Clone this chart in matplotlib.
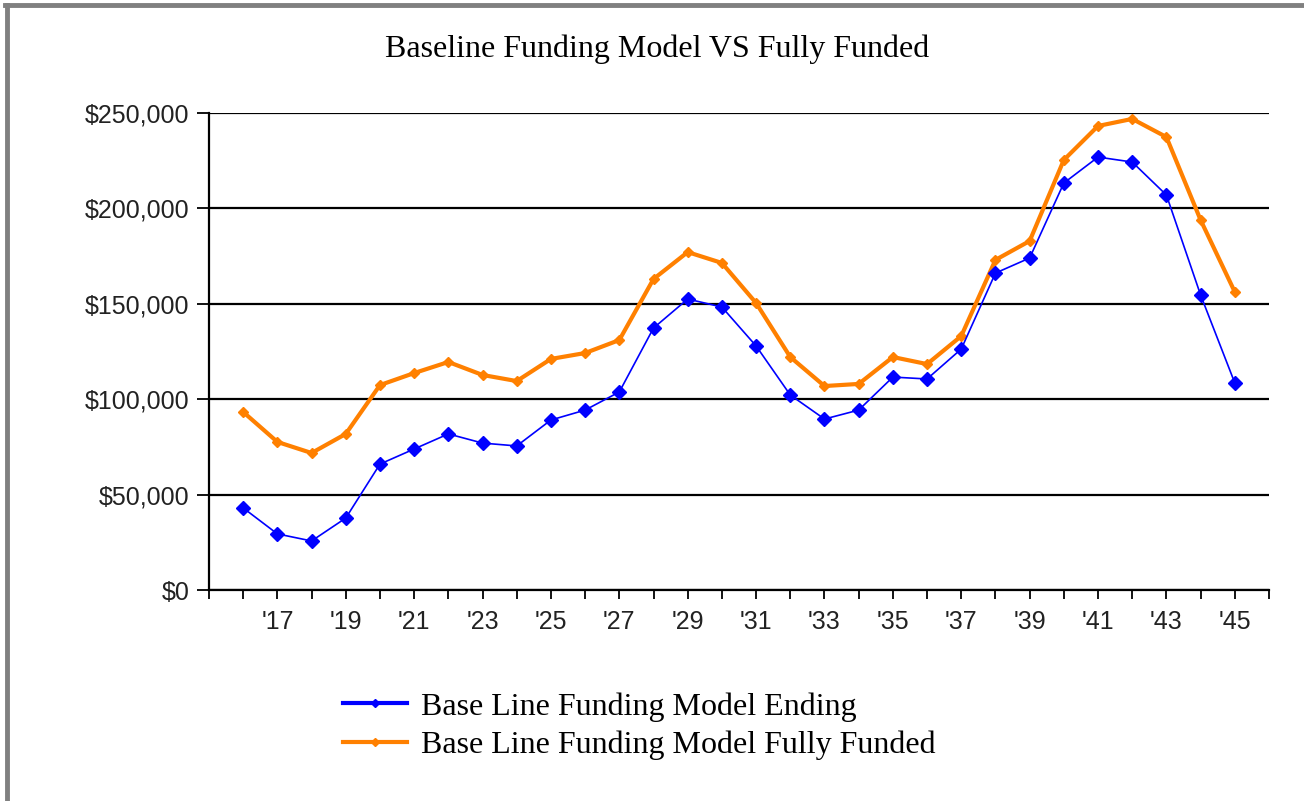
import matplotlib
matplotlib.use("Agg")
import matplotlib.pyplot as plt
from matplotlib.lines import Line2D
from matplotlib.ticker import FuncFormatter

# data (years 2016..2045)
years = list(range(2016, 2046))
ending = [43000, 29400, 25700, 37700, 66000, 73900, 81800, 77000, 75500, 89100,
          94300, 103800, 137300, 152500, 148300, 127900, 102200, 89600, 94300, 111600,
          110600, 126300, 166100, 174000, 213300, 226900, 224300, 207000, 154600, 108500]
fully_funded = [93300, 77600, 71800, 81800, 107400, 113700, 119500, 112700, 109500, 121100,
                124200, 131000, 163000, 177100, 171400, 150400, 122100, 106900, 108000, 122100,
                118400, 133100, 173000, 182900, 225400, 243200, 246900, 237400, 193900, 156200]
y_ticks = [0, 50000, 100000, 150000, 200000, 250000]
label_years = list(range(2017, 2046, 2))

title = "Baseline Funding Model VS Fully Funded"
name_ending = "Base Line Funding Model Ending"
name_full = "Base Line Funding Model Fully Funded"

serif = ["Liberation Serif", "DejaVu Serif"]
sans = ["Liberation Sans", "DejaVu Sans"]

fig = plt.figure(figsize=(13.04, 8.01), dpi=100)
ax = fig.add_axes([209 / 1304, 1 - 590 / 801, 1060 / 1304, 477 / 801])

ax.plot(years, fully_funded, color="#FF8000", linewidth=3, marker="D", markersize=5.5,
        label=name_full, zorder=3)
ax.plot(years, ending, color="#0000FF", linewidth=1.2, marker="D", markersize=7.5,
        label=name_ending, zorder=4)

ax.set_xlim(years[0] - 1, years[-1] + 1)
ax.set_ylim(y_ticks[0], y_ticks[-1])

# x ticks at every year, labels on odd years only
all_ticks = list(range(years[0] - 1, years[-1] + 2))
ax.set_xticks(all_ticks)
ax.set_xticklabels([f"'{y % 100:02d}" if y in label_years else "" for y in all_ticks],
                   family=sans, fontsize=18, color="#222222")
ax.tick_params(axis="x", length=6.5, width=1.3, pad=8, direction="out")

ax.set_yticks(y_ticks)
ax.yaxis.set_major_formatter(FuncFormatter(lambda v, p: f"${v:,.0f}"))
for lab in ax.get_yticklabels():
    lab.set_family(sans)
    lab.set_fontsize(18)
    lab.set_color("#222222")
ax.tick_params(axis="y", length=9, width=1.3, pad=5)

ax.grid(axis="y", color="black", linewidth=1.6)
ax.set_axisbelow(True)
for side in ["top", "right"]:
    ax.spines[side].set_visible(False)
for side in ["left", "bottom"]:
    ax.spines[side].set_linewidth(1.6)

fig.text(657 / 1304, 1 - 49 / 801, title, ha="center", va="center",
         family=serif, fontsize=23)

handles = [Line2D([], [], color="#0000FF", linewidth=3, marker="D", markersize=4),
           Line2D([], [], color="#FF8000", linewidth=3, marker="D", markersize=4)]
fig.legend(handles, [name_ending, name_full], loc="upper left",
           bbox_to_anchor=(343 / 1304, 1 - 692 / 801), frameon=False,
           prop={"family": serif, "size": 23}, handlelength=2.0,
           handletextpad=0.45, labelspacing=0.28, borderpad=0, borderaxespad=0)

# grey window border on left and top
fig.add_artist(Line2D([7 / 1304, 7 / 1304], [0, 1 - 5 / 801], color="#808080",
                      linewidth=3.5, transform=fig.transFigure))
fig.add_artist(Line2D([5 / 1304, 1], [1 - 5 / 801, 1 - 5 / 801], color="#808080",
                      linewidth=3.5, transform=fig.transFigure))

fig.savefig("out.png", dpi=100)
